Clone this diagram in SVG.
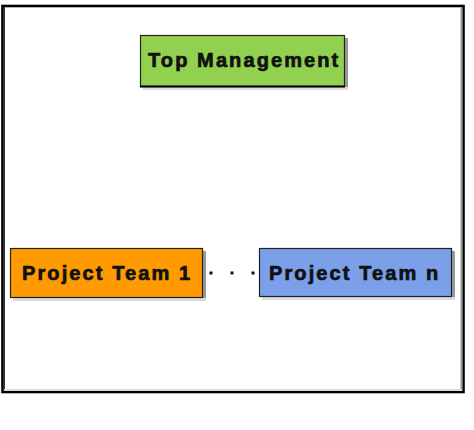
<svg xmlns="http://www.w3.org/2000/svg" width="474" height="430" viewBox="0 0 474 430">
<style>
.box{stroke:#222;stroke-width:1.2}
.shr{fill:#9a9a9a}
.shb{fill:#dcdcdc}
.lbl{font-family:"Liberation Sans",Arial,sans-serif;font-weight:bold;font-size:20px;letter-spacing:2.1px;fill:#111;stroke:#111;stroke-width:0.7px}
</style>
<rect x="0" y="0" width="474" height="430" fill="#fff"/>
<g id="frame">
<rect x="2.5" y="6" width="461" height="386" fill="#fff" stroke="#000" stroke-width="2.6"/>
<rect x="3.5" y="7" width="1.5" height="383" fill="#333"/>
<rect x="460.5" y="7.5" width="2" height="383" fill="#9a9a9a"/>
<rect x="4" y="389" width="458" height="2" fill="#dcdcdc"/>
</g>
<g id="connectors">
<line x1="209.5" y1="273" x2="259" y2="273" stroke="#111" stroke-width="3" stroke-dasharray="3 18"/>
</g>
<g id="top-management">
<rect class="shr" x="345" y="38" width="3" height="51"/>
<rect class="shb" x="143" y="87" width="205" height="3"/>
<rect class="box" x="140.5" y="35.5" width="204" height="51" fill="#92d14f"/>
<line x1="140" y1="86.5" x2="345" y2="86.5" stroke="#000" stroke-width="2"/>
<text class="lbl" x="148" y="67">Top Management</text>
</g>
<g id="project-team-1">
<rect class="shr" x="203" y="251" width="3" height="49"/>
<rect class="shb" x="13" y="298" width="193" height="3"/>
<rect class="box" x="10.5" y="248.5" width="192" height="49" fill="#ff9a00"/>
<text class="lbl" x="22" y="280">Project Team 1</text>
</g>
<g id="project-team-n">
<rect class="shr" x="452" y="251" width="3" height="49"/>
<rect class="shb" x="262" y="297" width="193" height="3"/>
<rect class="box" x="259.5" y="248.5" width="192" height="48" fill="#7b9fe8"/>
<text class="lbl" x="269" y="280">Project Team n</text>
</g>
</svg>
